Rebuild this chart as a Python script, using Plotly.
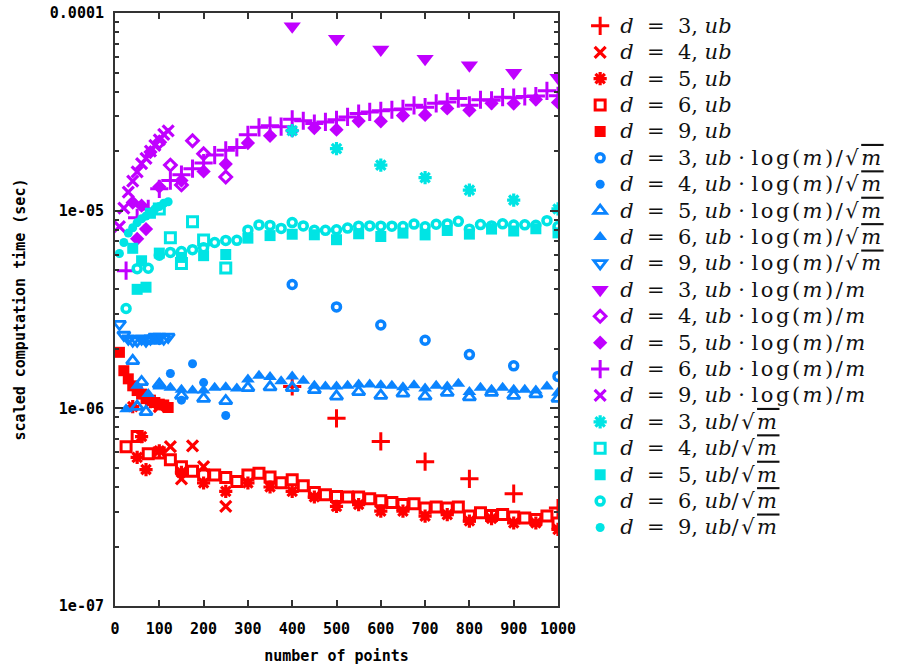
import plotly.graph_objects as go

# ---------------- data (scaled computation time, seconds) ----------------
X_D3 = [400, 500, 600, 700, 800, 900, 1000]
X_D4 = [100, 125, 150, 175, 200, 250]
X_D5 = [40, 50, 60, 70, 80, 100, 150, 200, 250, 300, 350, 400, 450, 500,
        550, 600, 650, 700, 750, 800, 850, 900, 950, 1000]
X_D6 = [25, 50, 75, 100, 125, 150, 175, 200, 225, 250, 275, 300, 325, 350,
        375, 400, 425, 450, 475, 500, 525, 550, 575, 600, 625, 650, 675, 700,
        725, 750, 775, 800, 825, 850, 875, 900, 925, 950, 975, 1000]
X_D9 = [10, 20, 30, 40, 50, 60, 70, 80, 90, 100, 110, 120]

# normalisation: ub
D3_UB = [1.29e-6, 8.9e-7, 6.8e-7, 5.37e-7, 4.4e-7, 3.7e-7, 3.13e-7]
D4_UB = [1.02e-6, 6.4e-7, 4.4e-7, 6.45e-7, 5.07e-7, 3.19e-7]
D5_UB = [1.02e-6, 5.65e-7, 7.2e-7, 4.9e-7, 1.08e-6, 6.1e-7, 4.74e-7, 4.19e-7,
         3.8e-7, 4.19e-7, 4.0e-7, 3.8e-7, 3.56e-7, 3.19e-7, 3.26e-7, 3.02e-7,
         3.02e-7, 2.85e-7, 2.9e-7, 2.69e-7, 2.77e-7, 2.63e-7, 2.63e-7, 2.44e-7]
D6_UB = [6.4e-7, 7.2e-7, 5.9e-7, 5.95e-7, 5.5e-7, 5.07e-7, 4.8e-7, 4.6e-7,
         4.6e-7, 4.47e-7, 4.27e-7, 4.6e-7, 4.7e-7, 4.5e-7, 4.2e-7, 4.35e-7,
         4.06e-7, 3.75e-7, 3.65e-7, 3.58e-7, 3.56e-7, 3.56e-7, 3.49e-7, 3.41e-7,
         3.34e-7, 3.26e-7, 3.29e-7, 3.13e-7, 3.17e-7, 3.13e-7, 3.17e-7, 2.85e-7,
         2.96e-7, 2.87e-7, 2.9e-7, 2.82e-7, 2.79e-7, 2.74e-7, 2.85e-7, 2.63e-7]
D9_UB = [1.92e-6, 1.55e-6, 1.41e-6, 1.3e-6, 1.23e-6, 1.18e-6, 1.12e-6, 1.1e-6,
         1.07e-6, 1.05e-6, 1.04e-6, 1.01e-6]

# normalisation: ub * log(m) / sqrt(m)
D3_LOGSQ = [4.23e-6, 3.26e-6, 2.64e-6, 2.21e-6, 1.87e-6, 1.64e-6, 1.45e-6]
D4_LOGSQ = [2.2e-6, 1.5e-6, 1.1e-6, 1.68e-6, 1.35e-6, 9.2e-7]
D5_LOGSQ = [1.74e-6, 1.02e-6, 1.36e-6, 9.6e-7, 2.2e-6, 1.32e-6, 1.16e-6, 1.12e-6,
            1.09e-6, 1.27e-6, 1.28e-6, 1.27e-6, 1.24e-6, 1.15e-6, 1.21e-6, 1.16e-6,
            1.19e-6, 1.15e-6, 1.2e-6, 1.14e-6, 1.2e-6, 1.16e-6, 1.18e-6, 1.12e-6]
D6_LOGSQ = [9.9e-7, 1.30e-6, 1.18e-6, 1.29e-6, 1.27e-6, 1.24e-6, 1.23e-6, 1.23e-6,
            1.27e-6, 1.28e-6, 1.26e-6, 1.40e-6, 1.46e-6, 1.44e-6, 1.37e-6, 1.45e-6,
            1.38e-6, 1.30e-6, 1.29e-6, 1.29e-6, 1.30e-6, 1.32e-6, 1.32e-6, 1.31e-6,
            1.30e-6, 1.28e-6, 1.31e-6, 1.26e-6, 1.30e-6, 1.29e-6, 1.33e-6, 1.21e-6,
            1.27e-6, 1.24e-6, 1.27e-6, 1.24e-6, 1.24e-6, 1.23e-6, 1.29e-6, 1.20e-6]
D9_LOGSQ = [2.67e-6, 2.35e-6, 2.25e-6, 2.2e-6, 2.2e-6, 2.25e-6, 2.2e-6, 2.25e-6,
            2.3e-6, 2.3e-6, 2.25e-6, 2.3e-6]

# normalisation: ub * log(m) / m
D3_LOGM = [8.57e-5, 7.4e-5, 6.54e-5, 5.87e-5, 5.44e-5, 4.99e-5, 4.71e-5]
D4_LOGM = [2.22e-5, 1.7e-5, 1.35e-5, 2.26e-5, 1.94e-5, 1.48e-5]
D5_LOGM = [1.1e-5, 7.2e-6, 1.06e-5, 8.07e-6, 1.98e-5, 1.32e-5, 1.42e-5, 1.58e-5,
           1.72e-5, 2.2e-5, 2.39e-5, 2.54e-5, 2.62e-5, 2.57e-5, 2.84e-5, 2.83e-5,
           3.03e-5, 3.05e-5, 3.29e-5, 3.22e-5, 3.49e-5, 3.48e-5, 3.65e-5, 3.53e-5]
D6_LOGM = [4.97e-6, 9.2e-6, 1.02e-5, 1.29e-5, 1.42e-5, 1.52e-5, 1.63e-5, 1.74e-5,
           1.91e-5, 2.02e-5, 2.09e-5, 2.42e-5, 2.64e-5, 2.69e-5, 2.66e-5, 2.90e-5,
           2.85e-5, 2.76e-5, 2.81e-5, 2.88e-5, 2.98e-5, 3.10e-5, 3.16e-5, 3.20e-5,
           3.24e-5, 3.27e-5, 3.41e-5, 3.34e-5, 3.49e-5, 3.55e-5, 3.69e-5, 3.41e-5,
           3.64e-5, 3.62e-5, 3.75e-5, 3.73e-5, 3.78e-5, 3.80e-5, 4.04e-5, 3.81e-5]
D9_LOGM = [8.3e-6, 1.03e-5, 1.24e-5, 1.41e-5, 1.57e-5, 1.73e-5, 1.84e-5, 2.0e-5,
           2.14e-5, 2.28e-5, 2.43e-5, 2.53e-5]

# normalisation: ub / sqrt(m)
D3_SQ = [2.54e-5, 2.06e-5, 1.7e-5, 1.47e-5, 1.27e-5, 1.13e-5, 1.02e-5]
D4_SQ = [1.02e-5, 7.3e-6, 5.4e-6, 8.8e-6, 7.1e-6, 5.13e-6]
D5_SQ = [6.45e-6, 4.0e-6, 5.58e-6, 4.1e-6, 9.7e-6, 6.1e-6, 5.8e-6, 5.92e-6,
         6.0e-6, 7.26e-6, 7.48e-6, 7.6e-6, 7.55e-6, 7.13e-6, 7.64e-6, 7.4e-6,
         7.7e-6, 7.54e-6, 7.94e-6, 7.61e-6, 8.07e-6, 7.89e-6, 8.1e-6, 7.72e-6]
D6_SQ = [3.2e-6, 5.09e-6, 5.11e-6, 5.95e-6, 6.15e-6, 6.21e-6, 6.35e-6, 6.5e-6,
         6.9e-6, 7.07e-6, 7.08e-6, 7.97e-6, 8.47e-6, 8.42e-6, 8.13e-6, 8.7e-6,
         8.37e-6, 7.95e-6, 7.95e-6, 8.0e-6, 8.16e-6, 8.35e-6, 8.37e-6, 8.35e-6,
         8.35e-6, 8.31e-6, 8.55e-6, 8.28e-6, 8.54e-6, 8.57e-6, 8.83e-6, 8.06e-6,
         8.5e-6, 8.37e-6, 8.58e-6, 8.46e-6, 8.48e-6, 8.44e-6, 8.9e-6, 8.32e-6]
D9_SQ = [6.07e-6, 6.9e-6, 7.7e-6, 8.2e-6, 8.7e-6, 9.1e-6, 9.4e-6, 9.8e-6,
         1.02e-5, 1.05e-5, 1.09e-5, 1.11e-5]

Y_TICK_VALS = [1e-7, 1e-6, 1e-5, 1e-4]
Y_TICK_TEXT = ["1e-07", "1e-06", "1e-05", "0.0001"]
X_TICK_VALS = [0, 100, 200, 300, 400, 500, 600, 700, 800, 900, 1000]

# ---------------- styling ----------------
RED = "#ff0000"
BLUE = "#0a84ff"
PURPLE = "#c000ff"
CYAN = "#00e4e4"

NB = "\u00a0"
SQRT_M = "√<span style='text-decoration:overline'><i>m</i></span>"
WIDE = "letter-spacing:2.5px"


def lab(d, norm):
    base = f"<i>d</i>{NB}{NB}={NB}{NB}{d},{NB}<i>ub</i>"
    if norm == "logsq":
        base += f"{NB}·{NB}<span style='{WIDE}'>log(<i>m</i>)/{SQRT_M}</span>"
    elif norm == "logm":
        base += f"{NB}·{NB}<span style='{WIDE}'>log(<i>m</i>)/<i>m</i></span>"
    elif norm == "sq":
        base += f"<span style='{WIDE}'>/{SQRT_M}</span>"
    return f"<span style='font-size:21px'>{base}</span>"


series = [
    (X_D3, D3_UB, 3, "ub", RED, "cross-thin", 13, 3),
    (X_D4, D4_UB, 4, "ub", RED, "x-thin", 11, 3.2),
    (X_D5, D5_UB, 5, "ub", RED, "asterisk", 11, 3.2),
    (X_D6, D6_UB, 6, "ub", RED, "square-open", 10, 3),
    (X_D9, D9_UB, 9, "ub", RED, "square", 11, 0),
    (X_D3, D3_LOGSQ, 3, "logsq", BLUE, "circle-open", 8, 3.5),
    (X_D4, D4_LOGSQ, 4, "logsq", BLUE, "circle", 9, 0),
    (X_D5, D5_LOGSQ, 5, "logsq", BLUE, "triangle-up-open", 11, 2.8),
    (X_D6, D6_LOGSQ, 6, "logsq", BLUE, "triangle-up", 12, 0),
    (X_D9, D9_LOGSQ, 9, "logsq", BLUE, "triangle-down-open", 11, 2.8),
    (X_D3, D3_LOGM, 3, "logm", PURPLE, "triangle-down", 15, 0),
    (X_D4, D4_LOGM, 4, "logm", PURPLE, "diamond-open", 9, 3),
    (X_D5, D5_LOGM, 5, "logm", PURPLE, "diamond", 11, 0),
    (X_D6, D6_LOGM, 6, "logm", PURPLE, "cross-thin", 13, 3),
    (X_D9, D9_LOGM, 9, "logm", PURPLE, "x-thin", 11, 3.2),
    (X_D3, D3_SQ, 3, "sq", CYAN, "asterisk", 11, 3.2),
    (X_D4, D4_SQ, 4, "sq", CYAN, "square-open", 10, 3),
    (X_D5, D5_SQ, 5, "sq", CYAN, "square", 11, 0),
    (X_D6, D6_SQ, 6, "sq", CYAN, "circle-open", 8, 3.5),
    (X_D9, D9_SQ, 9, "sq", CYAN, "circle", 9, 0),
]

fig = go.Figure()
for xs, ys, d, norm, col, sym, size, lw in series:
    fig.add_trace(go.Scatter(
        x=xs, y=ys, mode="markers", name=lab(d, norm),
        marker=dict(symbol=sym, size=size, color=col,
                    line=dict(color=col, width=lw)),
    ))

MONO = dict(family="DejaVu Sans Mono", size=15, color="#000000", weight="bold")

minor_vals = [k * 10 ** e for e in (-7, -6, -5) for k in range(2, 10)]

fig.update_layout(
    width=899, height=668,
    margin=dict(l=115, r=341, t=8, b=62),
    plot_bgcolor="white", paper_bgcolor="white",
    showlegend=True,
    legend=dict(x=1.05, y=1.009, xanchor="left", yanchor="top", maxheight=650,
                font=dict(family="DejaVu Serif", size=18, color="#111111"),
                itemwidth=30, tracegroupgap=0, bgcolor="rgba(0,0,0,0)"),
    xaxis=dict(range=[0, 1000], tickvals=X_TICK_VALS, ticks="inside", ticklen=6,
               tickwidth=1.5, tickcolor="#333333", showline=True, linecolor="#333333",
               linewidth=2, mirror="allticks", showgrid=False, zeroline=False,
               automargin=False, tickfont=MONO, ticklabelstandoff=8,
               ticklabeloverflow="allow",
               title=dict(text="number of points", font=MONO, standoff=13)),
    yaxis=dict(type="log", range=[-7, -4], tickvals=Y_TICK_VALS, ticktext=Y_TICK_TEXT,
               ticks="inside", ticklen=8, tickwidth=1.5, tickcolor="#333333",
               showline=True, linecolor="#333333", linewidth=2, mirror="allticks",
               showgrid=False, zeroline=False, automargin=False,
               tickfont=MONO, ticklabelstandoff=6, ticklabeloverflow="allow",
               minor=dict(tickvals=minor_vals, ticks="inside", ticklen=4,
                          tickcolor="#333333", tickwidth=1.5, showgrid=False),
               title=dict(text="scaled computation time (sec)", font=MONO, standoff=21)),
)

fig.write_html("out.html", config={"displayModeBar": False},
               post_script="document.body.style.margin='0';document.body.style.overflow='hidden';")
